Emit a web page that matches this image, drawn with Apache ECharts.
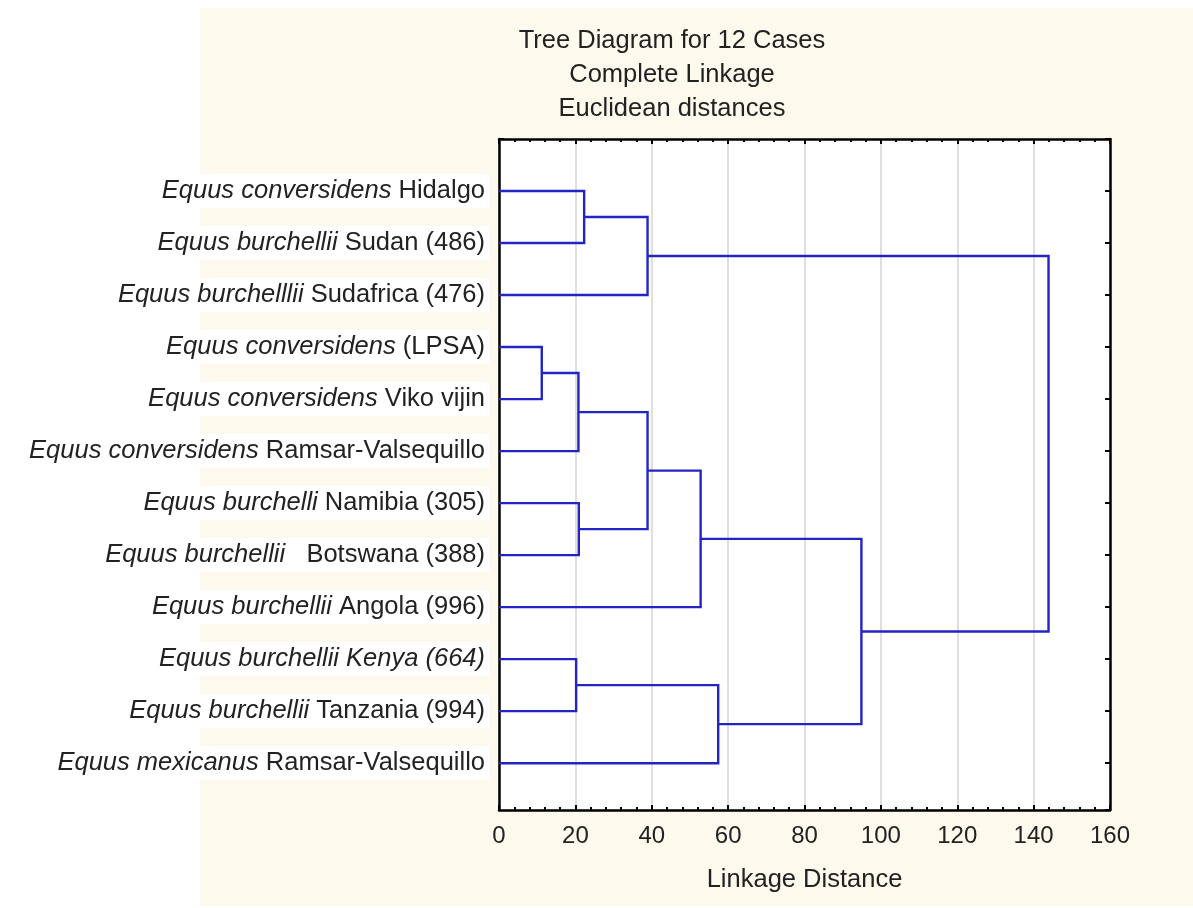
<!DOCTYPE html>
<html>
<head>
<meta charset="utf-8">
<script src="https://cdn.jsdelivr.net/npm/echarts@6/dist/echarts.min.js"></script>
<style>
  html, body { margin: 0; padding: 0; background: #ffffff; }
  #chart { width: 1193px; height: 908px; }
</style>
</head>
<body>
<div id="chart"></div>
<script>
// Case labels, top to bottom: [italic species name, plain locality]
const caseNames = [
  ['Equus conversidens', ' Hidalgo'],
  ['Equus burchellii', ' Sudan (486)'],
  ['Equus burchelllii', ' Sudafrica (476)'],
  ['Equus conversidens', ' (LPSA)'],
  ['Equus conversidens', ' Viko vijin'],
  ['Equus conversidens', ' Ramsar-Valsequillo'],
  ['Equus burchelli', ' Namibia (305)'],
  ['Equus burchellii', '   Botswana (388)'],
  ['Equus burchellii', ' Angola (996)'],
  ['Equus burchellii Kenya (664)', ''],
  ['Equus burchellii', ' Tanzania (994)'],
  ['Equus mexicanus', ' Ramsar-Valsequillo']
];

// Agglomeration steps: clusters a and b joined at a linkage distance.
// Indices 0..11 are the cases; each step creates cluster 12, 13, ...
const mergeA = [0, 12, 3, 14, 6, 15, 17, 9, 19, 18, 13];
const mergeB = [1, 2, 4, 5, 7, 16, 8, 10, 11, 20, 21];
const mergeDist = [22.3, 38.9, 11.2, 20.8, 20.9, 38.9, 52.8, 20.2, 57.4, 94.9, 143.9];

const xTicks = [0, 20, 40, 60, 80, 100, 120, 140, 160];
const titleLines = ['Tree Diagram for 12 Cases', 'Complete Linkage', 'Euclidean distances'];
const xAxisName = 'Linkage Distance';

// Node positions: leaves sit at rows 1..12 with distance 0; joins at the row midpoint
const nodeRow = caseNames.map((_, i) => i + 1);
const nodeDist = caseNames.map(() => 0);
const links = [];
for (let k = 0; k < mergeA.length; k++) {
  const a = mergeA[k], b = mergeB[k], d = mergeDist[k];
  links.push([d, nodeRow[a], nodeDist[a], nodeRow[b], nodeDist[b]]);
  nodeRow.push((nodeRow[a] + nodeRow[b]) / 2);
  nodeDist.push(d);
}

const chart = echarts.init(document.getElementById('chart'), null, { renderer: 'canvas' });

const font = 'Liberation Sans, Arial, sans-serif';
const ink = '#222222';
const frame = { color: '#000', width: 2.5 };

chart.setOption({
  animation: false,
  backgroundColor: '#ffffff',
  graphic: [
    {
      type: 'rect', z: -10, silent: true,
      shape: { x: 200, y: 8, width: 993, height: 898 },
      style: { fill: '#fdf9ed' }
    },
    {
      type: 'rect', z: -9, silent: true,
      shape: { x: 499, y: 139, width: 611, height: 671 },
      style: { fill: '#ffffff' }
    },
    ...titleLines.map((t, i) => ({
      type: 'text', silent: true,
      x: 672, y: 41 + i * 34,
      style: {
        text: t, font: '25.5px ' + font, fill: ink,
        align: 'center', verticalAlign: 'middle'
      }
    }))
  ],
  grid: { left: 499, right: 83, top: 139, bottom: 98, containLabel: false },
  xAxis: [
    {
      type: 'value', min: 0, max: 160, interval: 20, position: 'bottom',
      axisLine: { show: true, onZero: false, lineStyle: frame },
      axisTick: { show: true, inside: true, length: 5, lineStyle: { color: '#000', width: 2 } },
      minorTick: { show: true, splitNumber: 5, length: 3, lineStyle: { color: '#000', width: 2 } },
      splitLine: { show: true, lineStyle: { color: '#d4d4d4', width: 1.5 } },
      axisLabel: {
        show: true, margin: 14, fontSize: 24, fontFamily: font, color: ink,
        formatter: v => (xTicks.indexOf(v) >= 0 ? String(v) : '')
      },
      name: xAxisName, nameLocation: 'middle', nameGap: 70,
      nameTextStyle: { fontSize: 25.5, fontFamily: font, color: ink, verticalAlign: 'middle' }
    },
    {
      type: 'value', min: 0, max: 160, interval: 20, position: 'top',
      axisLine: { show: true, onZero: false, lineStyle: frame },
      axisTick: { show: true, inside: true, length: 5, lineStyle: { color: '#000', width: 2 } },
      minorTick: { show: true, splitNumber: 5, length: 3, lineStyle: { color: '#000', width: 2 } },
      splitLine: { show: false },
      axisLabel: { show: false }
    }
  ],
  yAxis: [
    {
      type: 'value', min: 0, max: 12.9, interval: 1, inverse: true, position: 'left',
      axisLine: { show: true, onZero: false, lineStyle: frame },
      axisTick: { show: true, inside: true, length: 5, lineStyle: { color: '#000', width: 2 } },
      splitLine: { show: false },
      axisLabel: {
        show: true, margin: 10, align: 'right', showMaxLabel: false,
        formatter: v => {
          const c = caseNames[v - 1];
          if (!c) return '';
          return '{i|' + c[0] + '}' + (c[1] ? '{n|' + c[1] + '}' : '');
        },
        backgroundColor: '#ffffff',
        padding: [4, 4, 4, 6],
        rich: {
          i: { fontSize: 25.5, fontFamily: font, fontStyle: 'italic', color: ink },
          n: { fontSize: 25.5, fontFamily: font, color: ink }
        }
      }
    },
    {
      type: 'value', min: 0, max: 12.9, interval: 1, inverse: true, position: 'right',
      axisLine: { show: true, onZero: false, lineStyle: frame },
      axisTick: { show: true, inside: true, length: 5, lineStyle: { color: '#000', width: 2 } },
      splitLine: { show: false },
      axisLabel: { show: false }
    }
  ],
  series: [
    {
      type: 'custom',
      xAxisIndex: 0, yAxisIndex: 0,
      data: links,
      encode: { x: [0, 2, 4], y: [1, 3] },
      clip: false,
      renderItem: (params, api) => {
        const d = api.value(0);
        const p1 = api.coord([api.value(2), api.value(1)]);
        const p2 = api.coord([d, api.value(1)]);
        const p3 = api.coord([d, api.value(3)]);
        const p4 = api.coord([api.value(4), api.value(3)]);
        return {
          type: 'polyline',
          shape: { points: [p1, p2, p3, p4] },
          style: { stroke: '#2424c4', lineWidth: 2.4, fill: null }
        };
      }
    }
  ]
});
</script>
</body>
</html>
